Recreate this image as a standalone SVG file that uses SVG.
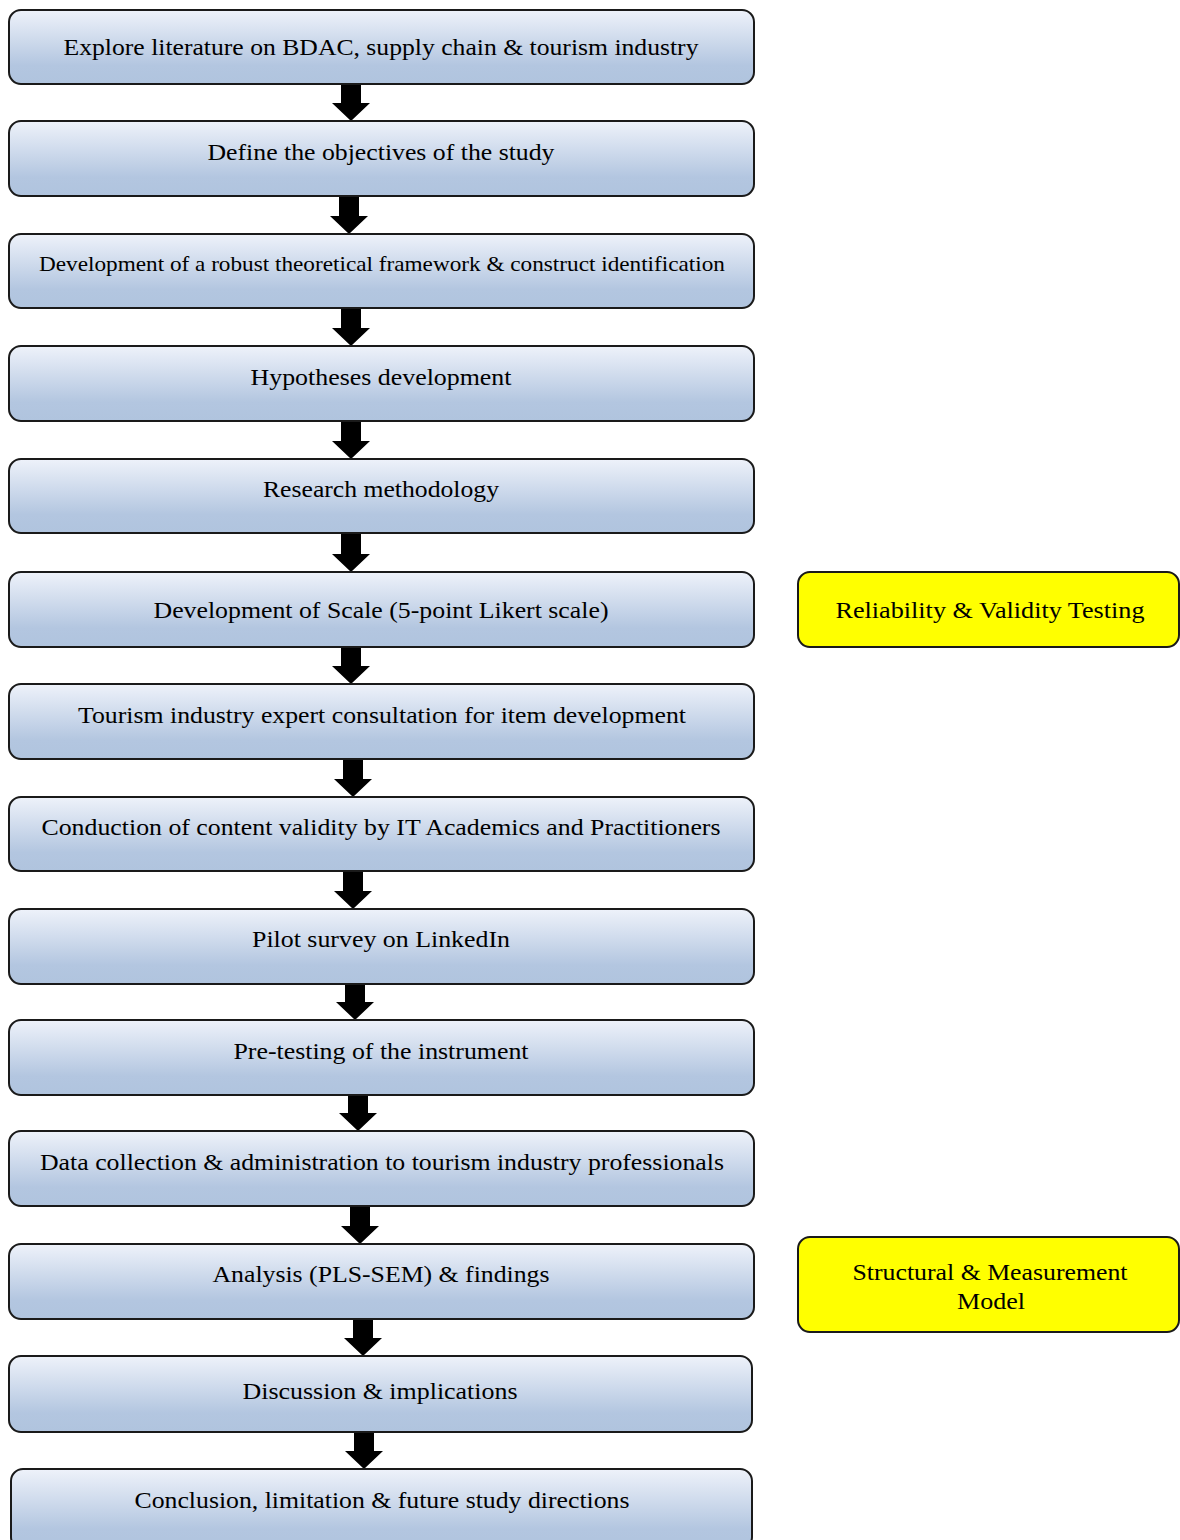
<svg xmlns="http://www.w3.org/2000/svg" width="1180" height="1540" viewBox="0 0 1180 1540">
<defs>
<linearGradient id="g" x1="0" y1="0" x2="0" y2="1">
<stop offset="0" stop-color="#eef2fa"/>
<stop offset="0.75" stop-color="#b3c6e0"/>
<stop offset="1" stop-color="#b0c4de"/>
</linearGradient>
<path id="arr" d="M-10,0 H10 V-19 H19 L0,0 L-19,-19 H-10 Z"/>
</defs>
<style>
.b{fill:url(#g);stroke:#1a1a1a;stroke-width:2}
.y{fill:#ffff00;stroke:#1a1a1a;stroke-width:2}
text{font-family:"Liberation Serif","Times New Roman",serif;font-size:23px;fill:#000;text-anchor:middle}
.a{fill:#000}
</style>
<rect width="1180" height="1540" fill="#fff"/>
<g id="connectors">
<path class="a" d="M341,84 H361 V103 H370 L351,121 L332,103 H341 Z"/>
<path class="a" d="M339,196 H359 V216 H368 L349,234 L330,216 H339 Z"/>
<path class="a" d="M341,308 H361 V328 H370 L351,346 L332,328 H341 Z"/>
<path class="a" d="M341,421 H361 V441 H370 L351,459 L332,441 H341 Z"/>
<path class="a" d="M341,533 H361 V554 H370 L351,572 L332,554 H341 Z"/>
<path class="a" d="M341,647 H361 V666 H370 L351,684 L332,666 H341 Z"/>
<path class="a" d="M343,759 H363 V779 H372 L353,797 L334,779 H343 Z"/>
<path class="a" d="M343,871 H363 V891 H372 L353,909 L334,891 H343 Z"/>
<path class="a" d="M345,984 H365 V1002 H374 L355,1020 L336,1002 H345 Z"/>
<path class="a" d="M348,1095 H368 V1113 H377 L358,1131 L339,1113 H348 Z"/>
<path class="a" d="M350,1206 H370 V1226 H379 L360,1244 L341,1226 H350 Z"/>
<path class="a" d="M353,1319 H373 V1338 H382 L363,1356 L344,1338 H353 Z"/>
<path class="a" d="M354,1432 H374 V1451 H383 L364,1469 L345,1451 H354 Z"/>
</g>
<g id="n1"><rect class="b" x="9" y="10" width="745" height="74" rx="12"/><text x="381" y="55" textLength="635" lengthAdjust="spacingAndGlyphs">Explore literature on BDAC, supply chain &amp; tourism industry</text></g>
<g id="n2"><rect class="b" x="9" y="121" width="745" height="75" rx="12"/><text x="381" y="160" textLength="347" lengthAdjust="spacingAndGlyphs">Define the objectives of the study</text></g>
<g id="n3"><rect class="b" x="9" y="234" width="745" height="74" rx="12"/><text x="382" y="271" textLength="686" lengthAdjust="spacingAndGlyphs" style="font-size:21px">Development of a robust theoretical framework &amp; construct identification</text></g>
<g id="n4"><rect class="b" x="9" y="346" width="745" height="75" rx="12"/><text x="381" y="385" textLength="261" lengthAdjust="spacingAndGlyphs">Hypotheses development</text></g>
<g id="n5"><rect class="b" x="9" y="459" width="745" height="74" rx="12"/><text x="381" y="497" textLength="236" lengthAdjust="spacingAndGlyphs">Research methodology</text></g>
<g id="n6"><rect class="b" x="9" y="572" width="745" height="75" rx="12"/><text x="381" y="618" textLength="455" lengthAdjust="spacingAndGlyphs">Development of Scale (5-point Likert scale)</text></g>
<g id="n7"><rect class="b" x="9" y="684" width="745" height="75" rx="12"/><text x="382" y="723" textLength="608" lengthAdjust="spacingAndGlyphs">Tourism industry expert consultation for item development</text></g>
<g id="n8"><rect class="b" x="9" y="797" width="745" height="74" rx="12"/><text x="381" y="835" textLength="679" lengthAdjust="spacingAndGlyphs">Conduction of content validity by IT Academics and Practitioners</text></g>
<g id="n9"><rect class="b" x="9" y="909" width="745" height="75" rx="12"/><text x="381" y="947" textLength="258" lengthAdjust="spacingAndGlyphs">Pilot survey on LinkedIn</text></g>
<g id="n10"><rect class="b" x="9" y="1020" width="745" height="75" rx="12"/><text x="381" y="1059" textLength="295" lengthAdjust="spacingAndGlyphs">Pre-testing of the instrument</text></g>
<g id="n11"><rect class="b" x="9" y="1131" width="745" height="75" rx="12"/><text x="382" y="1170" textLength="684" lengthAdjust="spacingAndGlyphs">Data collection &amp; administration to tourism industry professionals</text></g>
<g id="n12"><rect class="b" x="9" y="1244" width="745" height="75" rx="12"/><text x="381" y="1282" textLength="337" lengthAdjust="spacingAndGlyphs">Analysis (PLS-SEM) &amp; findings</text></g>
<g id="n13"><rect class="b" x="9" y="1356" width="743" height="76" rx="12"/><text x="380" y="1399" textLength="275" lengthAdjust="spacingAndGlyphs">Discussion &amp; implications</text></g>
<g id="n14"><rect class="b" x="11" y="1469" width="741" height="80" rx="12"/><text x="382" y="1508" textLength="495" lengthAdjust="spacingAndGlyphs">Conclusion, limitation &amp; future study directions</text></g>
<g id="y1"><rect class="y" x="798" y="572" width="381" height="75" rx="12"/><text x="990" y="618" textLength="309" lengthAdjust="spacingAndGlyphs">Reliability &amp; Validity Testing</text></g>
<g id="y2"><rect class="y" x="798" y="1237" width="381" height="95" rx="12"/><text x="990" y="1280" textLength="275" lengthAdjust="spacingAndGlyphs">Structural &amp; Measurement</text><text x="991" y="1309" textLength="68" lengthAdjust="spacingAndGlyphs">Model</text></g>
</svg>
